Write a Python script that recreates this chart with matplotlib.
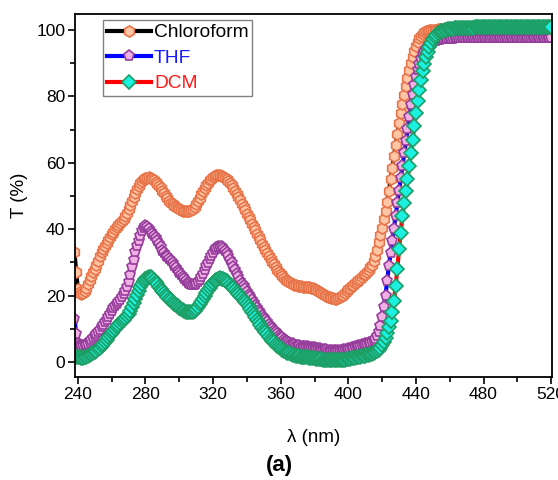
import numpy as np
import matplotlib
matplotlib.use("Agg")
from matplotlib import pyplot as plt
from matplotlib.ticker import MultipleLocator

plt.rcParams['font.family'] = ['Liberation Sans', 'DejaVu Sans']

# wavelength grid (nm), 1 nm step from 238 to 520
wl = np.arange(238, 521)

# transmittance (%), rows of 10 nm
chloroform = [
    33, 27,
    22, 21, 20.5, 20.8, 21.5, 22.4, 23.5, 24.8, 26, 27,                  # 240
    28, 29.2, 30.5, 31.8, 33, 34, 35, 35.9, 36.8, 37.7,                  # 250
    38.5, 39.3, 40, 40.7, 41.3, 41.9, 42.5, 43.2, 44, 45,                # 260
    46, 47.2, 48.5, 49.8, 51, 52, 53, 53.8, 54.5, 55,                    # 270
    55.3, 55.5, 55.6, 55.5, 55.2, 54.8, 54.3, 53.7, 53, 52.3,            # 280
    51.5, 50.8, 50, 49.3, 48.6, 48, 47.5, 47, 46.6, 46.3,                # 290
    46, 45.8, 45.6, 45.5, 45.4, 45.4, 45.5, 45.7, 46, 46.7,              # 300
    47.5, 48.5, 49.5, 50.5, 51.5, 52.4, 53.2, 54, 54.7, 55.2,            # 310
    55.7, 56, 56.2, 56.3, 56.3, 56.1, 55.8, 55.4, 55, 54.4,              # 320
    53.8, 53.2, 52.5, 51.6, 50.7, 49.8, 48.8, 47.7, 46.7, 45.7,          # 330
    44.7, 43.7, 42.7, 41.7, 40.7, 39.7, 38.7, 37.7, 36.7, 35.6,          # 340
    34.5, 33.6, 32.7, 31.8, 31, 30.2, 29.4, 28.6, 27.8, 27.1,            # 350
    26.5, 25.9, 25.3, 24.8, 24.4, 24.1, 23.8, 23.5, 23.3, 23.1,          # 360
    23, 22.9, 22.8, 22.7, 22.7, 22.6, 22.6, 22.5, 22.4, 22.2,            # 370
    22, 21.7, 21.4, 21.1, 20.8, 20.5, 20.2, 19.9, 19.7, 19.5,            # 380
    19.3, 19.2, 19.1, 19.1, 19.3, 19.6, 19.9, 20.3, 20.8, 21.3,          # 390
    21.9, 22.4, 22.9, 23.3, 23.8, 24.2, 24.7, 25.1, 25.6, 26.1,          # 400
    26.6, 27.2, 27.8, 28.5, 29.3, 30.3, 31.8, 33.8, 36, 38.3,            # 410
    40.5, 43, 45.5, 48.3, 51.5, 55, 58.5, 62, 65.5, 68.8,                # 420
    72, 75, 77.8, 80.5, 83, 85.5, 87.8, 90, 92, 93.8,                    # 430
    95.3, 96.5, 97.5, 98.3, 98.9, 99.3, 99.6, 99.8, 99.9, 100,           # 440
    100, 100.1, 100.1, 100.2, 100.2, 100.2, 100.2, 100.3, 100.3, 100.3,  # 450
    100.3, 100.3, 100.3, 100.4, 100.4, 100.4, 100.4, 100.4, 100.4, 100.4,  # 460
    100.4, 100.4, 100.4, 100.4, 100.4, 100.4, 100.4, 100.4, 100.4, 100.4,  # 470
    100.5, 100.5, 100.5, 100.5, 100.5, 100.5, 100.5, 100.5, 100.5, 100.5,  # 480
    100.5, 100.5, 100.5, 100.5, 100.5, 100.5, 100.5, 100.5, 100.5, 100.5,  # 490
    100.5, 100.5, 100.5, 100.5, 100.5, 100.5, 100.5, 100.5, 100.5, 100.5,  # 500
    100.5, 100.5, 100.5, 100.5, 100.5, 100.5, 100.5, 100.5, 100.5, 100.5,  # 510
    100.5,
]

thf = [
    13, 8.5,
    5.5, 5, 4.8, 4.8, 5, 5.2, 5.5, 6, 6.5, 7.1,                          # 240
    7.8, 8.4, 9, 9.7, 10.5, 11.2, 12, 12.7, 13.5, 14.5,                  # 250
    15.5, 16.3, 17, 17.5, 18, 18.7, 19.5, 20.5, 21.5, 22.7,              # 260
    24, 26.2, 28.5, 30.8, 33, 34.8, 36.5, 38, 39.5, 40.4,                # 270
    41, 40.6, 40, 39.2, 38.5, 38, 37.5, 36.5, 35.5, 34.5,                # 280
    33.5, 32.7, 32, 31.5, 31, 30.4, 29.8, 29, 28.3, 27.5,                # 290
    26.8, 26.1, 25.5, 24.9, 24.3, 23.8, 23.4, 23.2, 23.1, 23.2,          # 300
    23.5, 24, 24.7, 25.6, 26.6, 27.7, 28.8, 29.9, 31, 32,                # 310
    32.9, 33.6, 34.2, 34.6, 34.7, 34.5, 34.1, 33.5, 32.7, 31.8,          # 320
    30.8, 29.8, 28.7, 27.6, 26.5, 25.5, 24.5, 23.6, 22.8, 22,            # 330
    21.2, 20.3, 19.5, 18.6, 17.8, 17, 16.2, 15.4, 14.7, 14,              # 340
    13.3, 12.6, 12, 11.3, 10.7, 10.1, 9.5, 8.9, 8.4, 7.9,                # 350
    7.5, 7.1, 6.7, 6.3, 6, 5.7, 5.5, 5.3, 5.1, 4.9,                      # 360
    4.8, 4.7, 4.6, 4.5, 4.5, 4.4, 4.4, 4.3, 4.3, 4.2,                    # 370
    4.1, 4, 3.9, 3.8, 3.7, 3.6, 3.5, 3.5, 3.4, 3.4,                      # 380
    3.3, 3.3, 3.3, 3.3, 3.3, 3.4, 3.4, 3.5, 3.6, 3.7,                    # 390
    3.8, 3.9, 4.1, 4.2, 4.4, 4.5, 4.7, 4.8, 5, 5.2,                      # 400
    5.3, 5.5, 5.6, 5.8, 6, 6.3, 6.8, 7.8, 9, 11,                         # 410
    13.5, 16.5, 20, 24.5, 29, 32.8, 36.5, 40.2, 44, 47.8,                # 420
    51.5, 55.3, 59, 62.8, 66.5, 70.2, 73.8, 77.3, 80.5, 83.3,            # 430
    85.8, 88, 89.7, 91.2, 92.4, 93.4, 94.2, 94.9, 95.5, 95.9,            # 440
    96.3, 96.6, 96.8, 97, 97.1, 97.2, 97.2, 97.3, 97.3, 97.4,            # 450
    97.4, 97.4, 97.4, 97.5, 97.5, 97.5, 97.5, 97.5, 97.5, 97.5,          # 460
    97.5, 97.5, 97.5, 97.5, 97.5, 97.5, 97.5, 97.5, 97.5, 97.5,          # 470
    97.5, 97.5, 97.5, 97.5, 97.5, 97.5, 97.5, 97.5, 97.5, 97.5,          # 480
    97.5, 97.5, 97.5, 97.5, 97.5, 97.5, 97.5, 97.5, 97.5, 97.5,          # 490
    97.5, 97.5, 97.5, 97.5, 97.5, 97.5, 97.5, 97.5, 97.5, 97.5,          # 500
    97.5, 97.5, 97.5, 97.5, 97.5, 97.5, 97.5, 97.5, 97.5, 97.5,          # 510
    97.5,
]

dcm = [
    1.5, 1.5,
    1.5, 1.4, 1.3, 1.3, 1.4, 1.6, 1.8, 2, 2.3, 2.6,                      # 240
    3, 3.4, 3.8, 4.3, 4.8, 5.4, 6, 6.7, 7.4, 8,                          # 250
    8.7, 9.4, 10, 10.6, 11.2, 11.8, 12.3, 12.8, 13.4, 13.9,              # 260
    14.5, 15.4, 16.5, 17.7, 19, 20.3, 21.5, 22.5, 23.5, 24.3,            # 270
    25, 25.4, 25.6, 25.5, 25.2, 24.7, 24, 23.4, 22.7, 22,                # 280
    21.4, 20.8, 20.2, 19.6, 19.1, 18.6, 18.1, 17.6, 17.2, 16.8,          # 290
    16.4, 16, 15.7, 15.4, 15.2, 15.1, 15, 15.1, 15.2, 15.5,              # 300
    16, 16.7, 17.4, 18.2, 19.1, 19.9, 20.8, 21.6, 22.4, 23.1,            # 310
    23.8, 24.3, 24.8, 25, 25.2, 25.1, 25, 24.7, 24.3, 23.8,              # 320
    23.3, 22.7, 22.2, 21.6, 21.1, 20.5, 20, 19.4, 18.8, 18.2,            # 330
    17.5, 16.8, 16, 15.2, 14.4, 13.6, 12.8, 12, 11.2, 10.4,              # 340
    9.7, 9, 8.3, 7.6, 7, 6.4, 5.9, 5.4, 4.9, 4.5,                        # 350
    4.1, 3.7, 3.4, 3.1, 2.8, 2.6, 2.4, 2.2, 2, 1.9,                      # 360
    1.8, 1.7, 1.6, 1.5, 1.5, 1.4, 1.4, 1.3, 1.3, 1.2,                    # 370
    1.1, 1, 0.9, 0.8, 0.8, 0.7, 0.7, 0.6, 0.6, 0.5,                      # 380
    0.5, 0.5, 0.5, 0.5, 0.5, 0.6, 0.6, 0.6, 0.7, 0.8,                    # 390
    0.9, 1, 1.1, 1.2, 1.3, 1.4, 1.5, 1.6, 1.7, 1.8,                      # 400
    1.9, 2, 2.2, 2.3, 2.5, 2.7, 3, 3.3, 3.7, 4.2,                        # 410
    5, 6, 7.3, 8.8, 10.5, 12.5, 15, 18.5, 23, 28,                        # 420
    34, 39, 44, 48, 51.5, 55, 59, 63, 67, 71,                            # 430
    75, 78.5, 82, 85, 87.5, 89.8, 91.8, 93.5, 95, 96.2,                  # 440
    97.2, 97.9, 98.5, 99, 99.3, 99.6, 99.8, 100, 100.1, 100.2,           # 450
    100.3, 100.4, 100.4, 100.5, 100.5, 100.5, 100.6, 100.6, 100.6, 100.7,  # 460
    100.7, 100.7, 100.7, 100.7, 100.7, 100.8, 100.8, 100.8, 100.8, 100.9,  # 470
    100.9, 101, 101, 101, 101, 101, 100.9, 100.9, 100.8, 100.8,          # 480
    100.8, 100.8, 100.8, 100.8, 100.8, 100.8, 100.8, 100.8, 100.8, 100.8,  # 490
    100.8, 100.8, 100.8, 100.8, 100.8, 100.8, 100.8, 100.8, 100.8, 100.8,  # 500
    100.8, 100.8, 100.8, 100.8, 100.8, 100.8, 100.8, 100.8, 100.8, 100.8,  # 510
    100.8,
]

labels = ["Chloroform", "THF", "DCM"]
label_colors = ["black", "#1a1aff", "#ff1a1a"]

fig = plt.figure(figsize=(5.58, 4.8), dpi=100)
ax = fig.add_axes([75/558, 1 - 377/480, 477/558, 363/480])

ax.plot(wl, chloroform, color="black", lw=3, marker="h", ms=8,
        mfc="#ffc6a6", mec="#e8744a", mew=1.2, label=labels[0])
ax.plot(wl, thf, color="#0000ff", lw=3, marker="p", ms=8,
        mfc="#f0b0e4", mec="#963e9c", mew=1.2, label=labels[1])
ax.plot(wl, dcm, color="#ff0000", lw=3, marker="D", ms=7,
        mfc="#1cf0e0", mec="#1c9e64", mew=1.2, label=labels[2])

ax.set_xlim(238.3, 520.5)
ax.set_ylim(-4.5, 104.8)
ax.xaxis.set_major_locator(MultipleLocator(40))
ax.xaxis.set_minor_locator(MultipleLocator(20))
ax.yaxis.set_major_locator(MultipleLocator(20))
ax.yaxis.set_minor_locator(MultipleLocator(10))
ax.tick_params(which="major", direction="out", length=5, width=1.2,
               labelsize=12.5, pad=2)
ax.tick_params(which="minor", direction="out", length=3.5, width=1.2)
for s in ax.spines.values():
    s.set_linewidth(1.3)

ax.set_xlabel("λ (nm)", fontsize=13.5, labelpad=20)
ax.set_ylabel("T (%)", fontsize=13.5, labelpad=6)

leg = ax.legend(loc="upper left", bbox_to_anchor=(0.059, 0.983),
                borderaxespad=0, fontsize=13.8, handlelength=2.3,
                handletextpad=0.15, labelspacing=0.42, borderpad=0.2,
                fancybox=False, framealpha=1, edgecolor="#808080")
leg.get_frame().set_linewidth(1.0)
for t, c in zip(leg.get_texts(), label_colors):
    t.set_color(c)

fig.text(0.5, 1 - 465/480, "(a)", ha="center", va="center",
         fontsize=16, fontweight="bold")

fig.savefig("out.png", dpi=100)
